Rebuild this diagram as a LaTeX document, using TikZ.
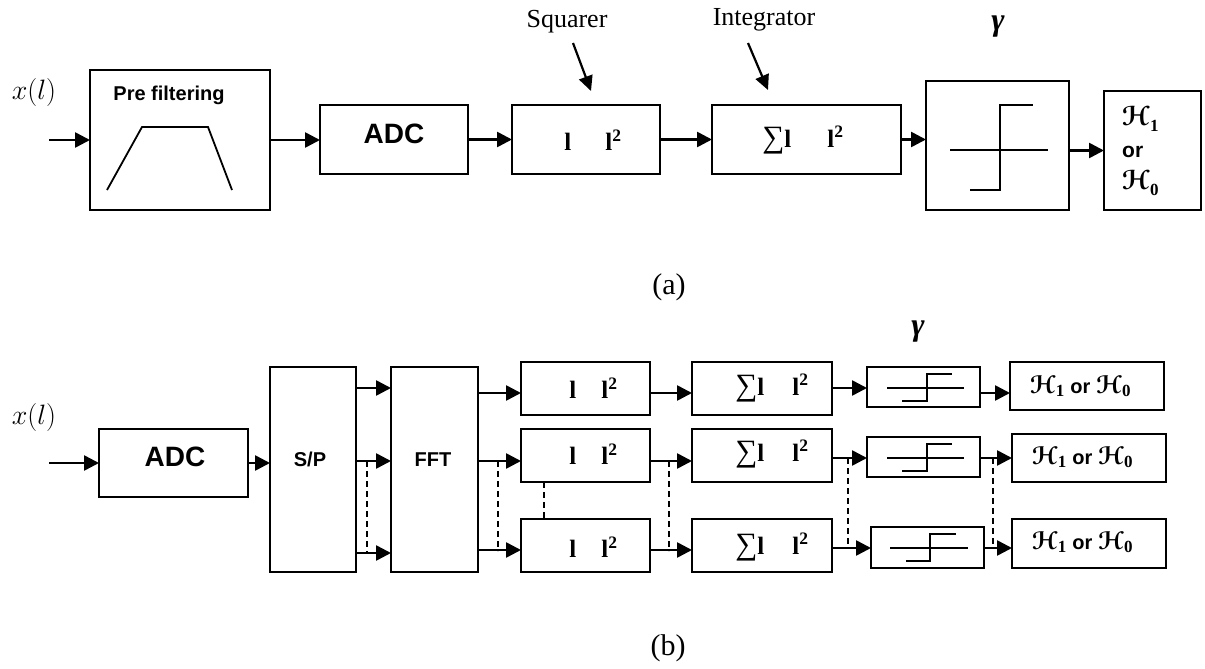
\RequirePackage{fix-cm}
\documentclass[tikz,border=0pt]{standalone}
\usepackage{fontspec}
\setmainfont{Liberation Serif}
\setsansfont{Liberation Sans}
\newfontfamily\dvs{DejaVu Sans}
\usetikzlibrary{arrows.meta}
\newcommand{\Hyp}[2]{{\fontsize{#1}{#1}\selectfont\dvs\bfseries ℋ}\raisebox{-0.3em}{\fontsize{17}{17}\selectfont\bfseries #2}}
\newcommand{\orw}[1]{{\fontsize{#1}{#1}\selectfont\sffamily\bfseries or}}
\newcommand{\HorH}{\Hyp{24}{1}\hspace{6pt}\orw{20}\hspace{6pt}\Hyp{24}{0}}
\newcommand{\sumsym}{{\mdseries\fontsize{31}{31}\selectfont ∑}}
\newcommand{\gam}{{\fontsize{32}{32}\selectfont\bfseries\itshape γ}}
\begin{document}
\begin{tikzpicture}[x=1pt,y=-1pt,
  box/.style={draw, line width=1.6pt, inner sep=0pt, outer sep=0pt},
  arr/.style={line width=2.6pt, -{Triangle[length=15pt,width=15pt]}},
  callout/.style={line width=2.2pt, -{Triangle[length=15pt,width=14pt]}},
  dsh/.style={line width=1.3pt, dash pattern=on 6pt off 4pt},
  sym/.style={line width=1.8pt},
  sanslbl/.style={font=\fontsize{#1}{#1}\selectfont\sffamily\bfseries, inner sep=0pt},
  seriflbl/.style={font=\fontsize{#1}{#1}\selectfont, inner sep=0pt},
  mathlbl/.style={font=\fontsize{#1}{#1}\selectfont, inner sep=0pt},
  optxt/.style={font=\fontsize{25}{25}\selectfont\bfseries, inner sep=0pt},
  htxt/.style={inner sep=0pt, anchor=west}
]
\useasboundingbox (0,0) rectangle (1205,669);

% ---------------- (a) ----------------
\node[mathlbl=28] (xa) at (34,93) {$x(l)$};
\coordinate (in1) at (49,140);
\node[box, minimum width=180pt, minimum height=140pt] (pre) at (180,140) {};
\node[sanslbl=20] (pretxt) at (169,95) {Pre filtering};
\draw[sym] (107,190) -- (142,127) -- (208,127) -- (232,190);
\node[box, minimum width=148pt, minimum height=69pt] (adc1) at (394,139.5) {};
\node[sanslbl=28] (adc1txt) at (394,134) {ADC};
\node[box, minimum width=148pt, minimum height=69pt] (sq) at (586,139.5) {};
\node[optxt] (sqtxt) at (593,140) {l\hspace{34pt}l\textsuperscript{2}};
\node[box, minimum width=189pt, minimum height=69pt] (int) at (806.5,139.5) {};
\node[optxt] (inttxt) at (803,140) {\sumsym l\hspace{36pt}l\textsuperscript{2}};
\node[box, minimum width=143pt, minimum height=129pt] (thr) at (997.5,145.5) {};
\draw[sym] (950,150) -- (1048,150);
\draw[sym] (970,190) -- (1000,190) -- (1000,105) -- (1033,105);
\node[box, minimum width=97pt, minimum height=119pt] (hyp) at (1152.5,150.5) {};
\node[font=\fontsize{22}{32}\selectfont, inner sep=0pt, anchor=west, align=left] (hyptxt) at (1122,151)
  {\Hyp{26}{1}\\ \orw{21}\\ \Hyp{26}{0}};

\node[seriflbl=26] (sqlbl) at (567,22) {Squarer};
\node[seriflbl=26] (intlbl) at (764,20) {Integrator};
\node[inner sep=0pt] (g1) at (998,27) {\gam};
\coordinate (sqa) at (573,43);
\coordinate (sqb) at (591,91);
\coordinate (ina) at (748,43);
\coordinate (inb) at (768,90);
\draw[callout] (sqa) -- (sqb);
\draw[callout] (ina) -- (inb);

\draw[arr] (in1) -- (pre.west);
\draw[arr] (pre.east) -- (pre.east -| adc1.west);
\draw[arr] (adc1.east) -- (sq.west);
\draw[arr] (sq.east) -- (int.west);
\draw[arr] (int.east) -- (int.east -| thr.west);
\draw[arr] (thr.east |- hyp.west) -- (hyp.west);

\node[seriflbl=30] (capa) at (669,287) {(a)};

% ---------------- (b) ----------------
\node[mathlbl=28] (xb) at (34,417) {$x(l)$};
\coordinate (in2) at (49,463);
\node[box, minimum width=149pt, minimum height=68pt] (adc2) at (173.5,463) {};
\node[sanslbl=28] (adc2txt) at (175,457) {ADC};
\node[box, minimum width=86pt, minimum height=205pt] (sp) at (313,469.5) {};
\node[sanslbl=20] (sptxt) at (310,459.5) {S/P};
\node[box, minimum width=87pt, minimum height=205pt] (fft) at (434.5,469.5) {};
\node[sanslbl=20] (ffttxt) at (433,459.5) {FFT};

\foreach \n/\y in {A/388.5,B/455.5,C/545.5}{
  \node[box, minimum width=129pt, minimum height=53pt] (sq\n) at (585.5,\y) {};
  \node[box, minimum width=140pt, minimum height=53pt] (in\n) at (762,\y) {};
}
\node[optxt] (sqAtxt) at (593.5,388) {l\hspace{25pt}l\textsuperscript{2}};
\node[optxt] (sqBtxt) at (593.5,454) {l\hspace{25pt}l\textsuperscript{2}};
\node[optxt] (sqCtxt) at (593.5,547) {l\hspace{25pt}l\textsuperscript{2}};
\node[optxt] (inAtxt) at (772,388) {\sumsym l\hspace{28pt}l\textsuperscript{2}};
\node[optxt] (inBtxt) at (772,454) {\sumsym l\hspace{28pt}l\textsuperscript{2}};
\node[optxt] (inCtxt) at (772,547) {\sumsym l\hspace{28pt}l\textsuperscript{2}};

\node[box, minimum width=113pt, minimum height=40pt] (thA) at (923.5,387) {};
\node[box, minimum width=113pt, minimum height=40pt] (thB) at (923.5,457) {};
\node[box, minimum width=113pt, minimum height=41pt] (thC) at (927.5,547.5) {};
\draw[sym] (887,388) -- (964,388);
\draw[sym] (902,401) -- (927,401) -- (927,374) -- (952,374);
\draw[sym] (887,458) -- (964,458);
\draw[sym] (902,471) -- (927,471) -- (927,444) -- (952,444);
\draw[sym] (890,548) -- (968,548);
\draw[sym] (906,561) -- (930,561) -- (930,534) -- (956,534);
\node[inner sep=0pt] (g2) at (918,332) {\gam};

\node[box, minimum width=154pt, minimum height=48pt] (hA) at (1087,386) {};
\node[box, minimum width=154pt, minimum height=48pt] (hB) at (1089,458) {};
\node[box, minimum width=154pt, minimum height=49pt] (hC) at (1089,543.5) {};
\node[htxt] (hAtxt) at (1030,386) {\HorH};
\node[htxt] (hBtxt) at (1032,457) {\HorH};
\node[htxt] (hCtxt) at (1032,542) {\HorH};

\coordinate (ya1) at (0,388);
\coordinate (ya2) at (0,461);
\coordinate (ya3) at (0,553);
\coordinate (yb1) at (0,393);
\coordinate (yb2) at (0,461);
\coordinate (yb3) at (0,550);
\coordinate (yc1) at (0,388);
\coordinate (yc2) at (0,458);
\coordinate (yc3) at (0,548);
\coordinate (yd1) at (0,393);
\coordinate (yd2) at (0,458);
\coordinate (yd3) at (0,548);

\draw[arr] (in2) -- (adc2.west);
\draw[arr] (adc2.east) -- (adc2.east -| sp.west);
\foreach \i in {1,2,3}{
  \draw[arr] (sp.east |- ya\i) -- (fft.west |- ya\i);
}
\draw[arr] (fft.east |- yb1) -- (sqA.west |- yb1);
\draw[arr] (fft.east |- yb2) -- (sqB.west |- yb2);
\draw[arr] (fft.east |- yb3) -- (sqC.west |- yb3);
\draw[arr] (sqA.east |- yb1) -- (inA.west |- yb1);
\draw[arr] (sqB.east |- yb2) -- (inB.west |- yb2);
\draw[arr] (sqC.east |- yb3) -- (inC.west |- yb3);
\draw[arr] (inA.east |- yc1) -- (thA.west |- yc1);
\draw[arr] (inB.east |- yc2) -- (thB.west |- yc2);
\draw[arr] (inC.east |- yc3) -- (thC.west |- yc3);
\draw[arr] (thA.east |- yd1) -- (hA.west |- yd1);
\draw[arr] (thB.east |- yd2) -- (hB.west |- yd2);
\draw[arr] (thC.east |- yd3) -- (hC.west |- yd3);

\draw[dsh] (367,461) -- (367,553);
\draw[dsh] (498,461) -- (498,551);
\draw[dsh] (sqB.south -| 544,0) -- (sqC.north -| 544,0);
\draw[dsh] (669,461) -- (669,551);
\draw[dsh] (848,458) -- (848,548);
\draw[dsh] (993,458) -- (993,548);

\node[seriflbl=30] (capb) at (668,648) {(b)};
\end{tikzpicture}
\end{document}
